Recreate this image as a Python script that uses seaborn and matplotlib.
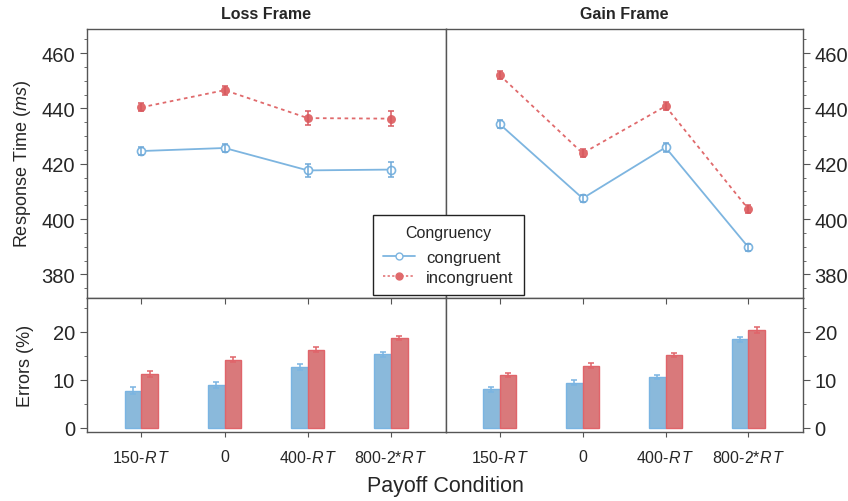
import numpy as np
import pandas as pd
import matplotlib
matplotlib.use("Agg")
import matplotlib.pyplot as plt
from matplotlib.ticker import MultipleLocator
from matplotlib.lines import Line2D
import seaborn as sns

# ---------------- data ----------------
conditions = ["150-RT", "0", "400-RT", "800-2*RT"]
tick_labels = [r"150-$\mathit{R\,T}$", "0", r"400-$\mathit{R\,T}$", r"800-2*$\mathit{R\,T}$"]
frames = ["Loss Frame", "Gain Frame"]
congruency = ["congruent", "incongruent"]

loss_rt_cong = [424.6, 425.7, 417.6, 417.9]
loss_rt_cong_se = [1.6, 1.4, 2.4, 2.8]
loss_rt_incong = [440.4, 446.6, 436.5, 436.3]
loss_rt_incong_se = [1.4, 1.6, 2.5, 2.8]
gain_rt_cong = [434.3, 407.5, 425.9, 389.8]
gain_rt_cong_se = [1.5, 1.3, 1.5, 1.3]
gain_rt_incong = [452.0, 423.8, 440.8, 403.6]
gain_rt_incong_se = [1.5, 1.4, 1.4, 1.4]

loss_err_cong = [7.7, 8.9, 12.7, 15.3]
loss_err_cong_se = [0.7, 0.6, 0.6, 0.5]
loss_err_incong = [11.2, 14.2, 16.3, 18.7]
loss_err_incong_se = [0.6, 0.5, 0.5, 0.5]
gain_err_cong = [8.0, 9.4, 10.5, 18.4]
gain_err_cong_se = [0.5, 0.5, 0.4, 0.6]
gain_err_incong = [11.0, 12.9, 15.1, 20.4]
gain_err_incong_se = [0.4, 0.5, 0.4, 0.6]

rt_data = {
    "Loss Frame": {"congruent": (loss_rt_cong, loss_rt_cong_se),
                   "incongruent": (loss_rt_incong, loss_rt_incong_se)},
    "Gain Frame": {"congruent": (gain_rt_cong, gain_rt_cong_se),
                   "incongruent": (gain_rt_incong, gain_rt_incong_se)},
}
err_data = {
    "Loss Frame": {"congruent": (loss_err_cong, loss_err_cong_se),
                   "incongruent": (loss_err_incong, loss_err_incong_se)},
    "Gain Frame": {"congruent": (gain_err_cong, gain_err_cong_se),
                   "incongruent": (gain_err_incong, gain_err_incong_se)},
}

# ---------------- style ----------------
sns.set_style("ticks")
plt.rcParams["font.family"] = ["Liberation Sans", "DejaVu Sans"]
plt.rcParams["mathtext.fontset"] = "custom"
plt.rcParams["mathtext.rm"] = "Liberation Sans"
plt.rcParams["mathtext.it"] = "Liberation Sans:italic"

line_col = {"congruent": "#7db5e0", "incongruent": "#e06a6c"}
ebar_col = {"congruent": "#6fa9d8", "incongruent": "#d85a60"}
bar_fill = {"congruent": "#8ab9db", "incongruent": "#d9797b"}
bar_edge = {"congruent": "#7ab4e2", "incongruent": "#e0646a"}
spine_col = "#555555"

fig = plt.figure(figsize=(8.48, 5.02), dpi=100)
W, H = 848, 502
def rect(x0, y0, x1, y1):
    return [x0 / W, 1 - y1 / H, (x1 - x0) / W, (y1 - y0) / H]

ax_rt = [fig.add_axes(rect(87, 30, 445.5, 298.7)), fig.add_axes(rect(445.5, 30, 802.7, 298.7))]
ax_er = [fig.add_axes(rect(87, 298.7, 445.5, 433)), fig.add_axes(rect(445.5, 298.7, 802.7, 433))]

pos = np.arange(len(conditions))
xlim = (-0.655, len(conditions) - 1 + 0.655)

for i, frame in enumerate(frames):
    ax = ax_rt[i]
    for c in congruency:
        vals, se = rt_data[frame][c]
        filled = c == "incongruent"
        sns.lineplot(x=pos, y=vals, ax=ax, color=line_col[c], lw=1.3,
                     linestyle=(0, (2, 2)) if filled else "-",
                     marker="o", markersize=5.2 if filled else 5.8,
                     markerfacecolor=line_col[c] if filled else "white",
                     markeredgecolor=line_col[c], markeredgewidth=1.2)
        ax.errorbar(pos, vals, yerr=se, fmt="none", ecolor=ebar_col[c],
                    elinewidth=1.1, capsize=2.5, capthick=1.1, zorder=5)
    ax.set_xlim(*xlim)
    ax.set_ylim(371.6, 468.7)
    ax.set_xticks(pos)
    ax.set_xticklabels([])
    ax.tick_params(axis="x", length=0)
    ax.yaxis.set_major_locator(MultipleLocator(20))
    ax.yaxis.set_minor_locator(MultipleLocator(5))
    ax.set_title(frame, fontsize=11.5, fontweight="bold", pad=8)
    ax.set_xlabel("")

    # bars
    axb = ax_er[i]
    rows = []
    for c in congruency:
        vals, se = err_data[frame][c]
        for cond, v, s in zip(conditions, vals, se):
            rows.append({"cond": cond, "cong": c, "err": v, "se": s})
    df = pd.DataFrame(rows)
    sns.barplot(data=df, x="cond", y="err", hue="cong", order=conditions,
                hue_order=congruency, palette=bar_fill, width=0.4,
                errorbar=None, legend=False, ax=axb, saturation=1, linewidth=1)
    patches = list(axb.patches)
    k = 0
    for c in congruency:
        sub = df[df["cong"] == c].set_index("cond").loc[conditions]
        for cond in conditions:
            p = patches[k]
            k += 1
            p.set_edgecolor(bar_edge[c])
            xc = p.get_x() + p.get_width() / 2
            axb.errorbar([xc], [sub.loc[cond, "err"]], yerr=[sub.loc[cond, "se"]],
                         fmt="none", ecolor=bar_edge[c], elinewidth=1.1,
                         capsize=2.5, capthick=1.1)
    axb.set_xlim(*xlim)
    axb.set_ylim(-0.9, 27.1)
    axb.set_xticks(pos)
    axb.set_xticklabels(tick_labels, fontsize=11.5)
    axb.yaxis.set_major_locator(MultipleLocator(10))
    axb.yaxis.set_minor_locator(MultipleLocator(5))
    axb.tick_params(axis="x", which="major", length=3.5, pad=9, top=True)
    axb.set_xlabel("")
    axb.set_ylabel("")

for axs in (ax_rt, ax_er):
    for j, ax in enumerate(axs):
        for s in ax.spines.values():
            s.set_visible(True)
            s.set_color(spine_col)
            s.set_linewidth(1.0)
        if j == 0:
            ax.tick_params(axis="y", which="both", left=True, right=False,
                           labelleft=True, labelright=False, labelsize=14.5,
                           color=spine_col)
        else:
            ax.tick_params(axis="y", which="both", left=False, right=True,
                           labelleft=False, labelright=True, labelsize=14.5,
                           color=spine_col)
        ax.tick_params(axis="y", which="major", length=5)
        ax.tick_params(axis="y", which="minor", length=2.5)
        ax.tick_params(axis="x", color=spine_col)
for axb in ax_er:
    axb.tick_params(axis="x", which="major", direction="out", length=3.5)
    axb.xaxis.set_tick_params(which="major", top=True)
    for t in axb.xaxis.get_major_ticks():
        t.tick2line.set_marker(3)
        t.tick2line.set_markersize(4)

ax_rt[0].set_ylabel(r"Response Time ($\mathit{ms}$)", fontsize=13, labelpad=6)
ax_er[0].set_ylabel("Errors (%)", fontsize=13, labelpad=14)
fig.text(445 / W, 1 - 487 / H, "Payoff Condition", fontsize=15.5, ha="center", va="center")

handles = [
    Line2D([], [], color=line_col["congruent"], lw=1.3, marker="o", markersize=5,
           markerfacecolor="white", markeredgecolor=line_col["congruent"]),
    Line2D([], [], color=line_col["incongruent"], lw=1.1, linestyle=(0, (1.5, 1.5)),
           marker="o", markersize=5, markerfacecolor=line_col["incongruent"],
           markeredgecolor=line_col["incongruent"]),
]
leg = fig.legend(handles, congruency, title="Congruency", fontsize=12, title_fontsize=11.5,
                 loc="lower left", bbox_to_anchor=(373 / W, 1 - 296 / H),
                 borderaxespad=0,
                 frameon=True, fancybox=False, edgecolor="#222222", framealpha=1,
                 handlelength=1.9, handletextpad=0.7, borderpad=0.6, labelspacing=0.3)
leg._legend_box.sep = leg._legend_box.sep + 3.5
leg.get_frame().set_linewidth(1.0)

fig.savefig("out.png", dpi=100)
